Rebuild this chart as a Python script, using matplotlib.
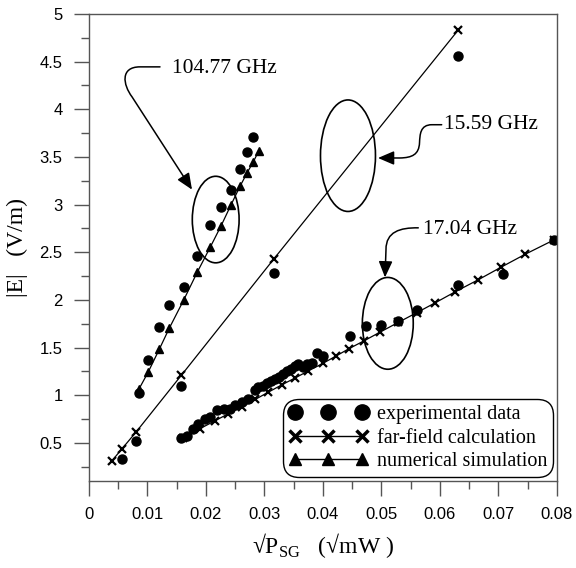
import numpy as np
import matplotlib
matplotlib.use("Agg")
import matplotlib.pyplot as plt
from matplotlib.patches import Ellipse, FancyArrowPatch
from matplotlib.path import Path

plt.rcParams['mathtext.fontset'] = 'custom'
plt.rcParams['mathtext.rm'] = 'Liberation Serif'

# 104.77 GHz
x_104 = [0.0085, 0.0101, 0.0120, 0.0137, 0.0162, 0.0185, 0.0207, 0.0226, 0.0243, 0.0258, 0.0270, 0.0280]
exp_104 = [1.02, 1.37, 1.72, 1.95, 2.14, 2.46, 2.79, 2.97, 3.15, 3.37, 3.55, 3.71]
xs_104 = [0.0085, 0.0101, 0.0120, 0.0137, 0.0162, 0.0185, 0.0207, 0.0226, 0.0243, 0.0258, 0.0270, 0.0281, 0.0290]
sim_104 = [1.06, 1.24, 1.48, 1.70, 2.00, 2.29, 2.55, 2.78, 3.00, 3.19, 3.33, 3.45, 3.56]

# 15.59 GHz
xc_1559 = [0.0039, 0.0056, 0.0080, 0.0158, 0.0316, 0.0631]
calc_1559 = [0.31, 0.435, 0.61, 1.21, 2.43, 4.83]
xe_1559 = [0.0056, 0.0080, 0.0158, 0.0316, 0.0631]
exp_1559 = [0.33, 0.52, 1.095, 2.285, 4.56]

# 17.04 GHz
xc_1704 = [0.0161, 0.0190, 0.0215, 0.0238, 0.0261, 0.0284, 0.0306, 0.0330, 0.0352, 0.0375, 0.0400, 0.0422,
           0.0445, 0.0470, 0.0497, 0.0529, 0.0560, 0.0592, 0.0626, 0.0665, 0.0705, 0.0746, 0.0795]
calc_1704 = [0.555, 0.65, 0.73, 0.805, 0.88, 0.955, 1.03, 1.11, 1.18, 1.255, 1.335, 1.41,
             1.49, 1.57, 1.66, 1.765, 1.865, 1.97, 2.085, 2.21, 2.345, 2.48, 2.63]
xe_1704 = [0.0158, 0.0167, 0.0178, 0.0187, 0.0198, 0.0207, 0.0218, 0.0230, 0.0241, 0.0250, 0.0261, 0.0272,
           0.0284, 0.0289, 0.0297, 0.0304, 0.0311, 0.0318, 0.0325, 0.0332, 0.0339, 0.0346, 0.0352, 0.0358,
           0.0365, 0.0372, 0.0381, 0.0389, 0.0400, 0.0446, 0.0473, 0.0500, 0.0529, 0.0561, 0.0631, 0.0707, 0.0795]
exp_1704 = [0.555, 0.575, 0.645, 0.695, 0.75, 0.775, 0.85, 0.855, 0.86, 0.90, 0.925, 0.96,
            1.055, 1.09, 1.10, 1.13, 1.15, 1.165, 1.19, 1.22, 1.25, 1.27, 1.31, 1.325,
            1.30, 1.33, 1.34, 1.445, 1.41, 1.625, 1.73, 1.735, 1.775, 1.89, 2.16, 2.275, 2.63]

fig = plt.figure(figsize=(5.76, 5.68), dpi=100)
ax = fig.add_axes([0.1545, 0.1532, 0.8125, 0.8222])

mk = dict(color='black', lw=0.9)
# experimental
ax.plot(x_104, exp_104, 'o', color='black', ms=6.5)
ax.plot(xe_1559, exp_1559, 'o', color='black', ms=6.5)
ax.plot(xe_1704, exp_1704, 'o', color='black', ms=6.5)
# far-field
ax.plot(xc_1559, calc_1559, '-x', ms=6, mew=1.6, **mk)
ax.plot(xc_1704, calc_1704, '-x', ms=6, mew=1.6, **mk)
# numerical
ax.plot(xs_104, sim_104, '-^', ms=5.5, **mk)

# legend proxies
h1, = ax.plot([], [], 'o', color='black', ms=11)
h2, = ax.plot([], [], '-x', color='black', lw=1, ms=9, mew=2.5)
h3, = ax.plot([], [], '-^', color='black', lw=1, ms=8)
leg = ax.legend([h1, h2, h3], ['experimental data', 'far-field calculation', 'numerical simulation'],
                loc='lower right', bbox_to_anchor=(0.992, 0.008), borderaxespad=0,
                numpoints=3, handlelength=3.9, handletextpad=0.45, labelspacing=0.22,
                prop={'family': 'Liberation Serif', 'size': 14.5}, fancybox=True,
                edgecolor='black', framealpha=1, borderpad=0.3)
leg.get_frame().set_linewidth(1.0)
leg.get_frame().set_boxstyle('round,pad=0,rounding_size=0.8')

# ellipses
for cx, cy, w, h in [(0.02166, 2.843, 0.0080, 0.908), (0.04427, 3.513, 0.0094, 1.17), (0.05108, 1.754, 0.0087, 0.963)]:
    ax.add_patch(Ellipse((cx, cy), w, h, fill=False, edgecolor='black', lw=1.2))

# arrows
paths = [
    ([(0.01214, 4.445), (0.00872, 4.445), (0.00530, 4.445), (0.00581, 4.257), (0.00735, 4.131), (0.01761, 3.157)],
     [Path.MOVETO, Path.LINETO, Path.CURVE4, Path.CURVE4, Path.CURVE4, Path.LINETO]),
    ([(0.06029, 3.838), (0.05863, 3.838), (0.05658, 3.838), (0.05658, 3.733), (0.05650, 3.649),
      (0.05641, 3.524), (0.05521, 3.492), (0.05316, 3.489), (0.04940, 3.489)],
     [Path.MOVETO, Path.LINETO, Path.CURVE4, Path.CURVE4, Path.CURVE4, Path.CURVE4, Path.CURVE4, Path.CURVE4, Path.LINETO]),
    ([(0.05629, 2.756), (0.05316, 2.759), (0.05077, 2.715), (0.05077, 2.529), (0.05060, 2.236)],
     [Path.MOVETO, Path.CURVE4, Path.CURVE4, Path.CURVE4, Path.LINETO]),
]
for verts, codes in paths:
    ax.add_patch(FancyArrowPatch(path=Path(verts, codes), arrowstyle='-|>,head_length=0.7,head_width=0.3',
                                 mutation_scale=14, color='black', lw=1.1, shrinkA=0, shrinkB=0))

tf = dict(family='Liberation Serif', fontsize=15.5, va='center', ha='left')
ax.text(0.01413, 4.431, '104.77 GHz', **tf)
ax.text(0.06060, 3.838, '15.59 GHz', **tf)
ax.text(0.05715, 2.738, '17.04 GHz', **tf)

ax.set_xlim(0, 0.08)
ax.set_ylim(0.1, 5)
ax.set_xticks(np.arange(0, 0.081, 0.01))
ax.set_xticks(np.arange(0.005, 0.08, 0.01), minor=True)
ax.set_xticklabels(['0', '0.01', '0.02', '0.03', '0.04', '0.05', '0.06', '0.07', '0.08'])
ax.set_yticks(np.arange(0.5, 5.01, 0.5))
ax.set_yticks(np.arange(0.25, 5, 0.5), minor=True)
ax.set_yticklabels(['0.5', '1', '1.5', '2', '2.5', '3', '3.5', '4', '4.5', '5'])

for s in ax.spines.values():
    s.set_color('#555555')
    s.set_linewidth(1.0)
ax.tick_params(which='both', direction='out', color='#555555', top=False, right=False)
ax.tick_params(which='major', length=11, width=1.0, pad=8)
ax.tick_params(which='minor', length=6, width=1.0)
for lab in ax.get_xticklabels() + ax.get_yticklabels():
    lab.set_family('Liberation Sans')
    lab.set_fontsize(12)

ax.set_ylabel('|E|   (V/m)', family='Liberation Serif', fontsize=17, labelpad=8)
ax.set_xlabel('√P$_{\\rm SG}$   (√mW )', family='Liberation Serif', fontsize=17, labelpad=6)

fig.savefig('out.png', dpi=100)
